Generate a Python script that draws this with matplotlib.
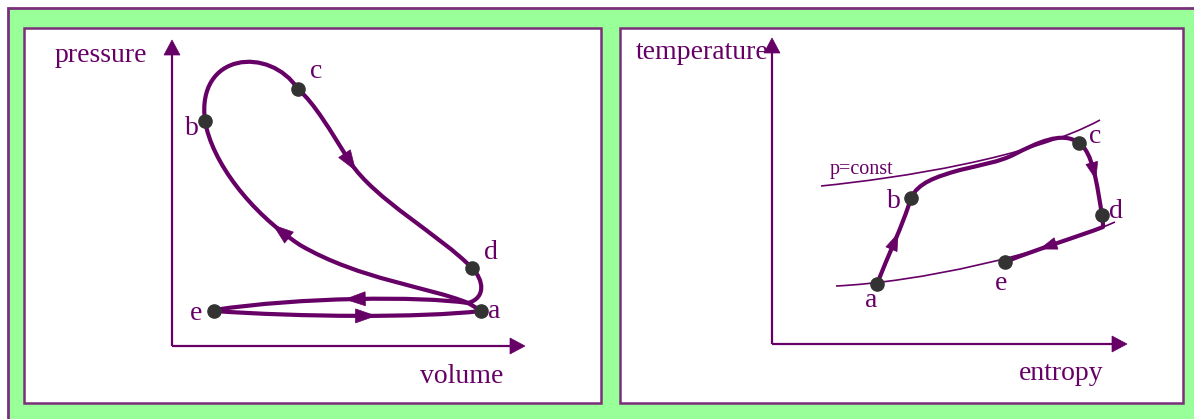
import numpy as np
import matplotlib
matplotlib.use('Agg')
import matplotlib.pyplot as plt
from matplotlib.path import Path
from matplotlib.patches import PathPatch, Rectangle, Polygon

W, H = 1194, 419
PURPLE = '#660066'
DOT = '#333333'
GREEN = '#99ff99'
BORDER = '#7a2f7a'
FONT = 'Liberation Serif'

# ---------------- data (pixel coordinates of the sketch) ----------------
# left panel: p-V diagram
pv_names = ['a', 'b', 'c', 'd', 'e']
pv_x = [481, 205, 298, 472, 214]
pv_y = [311, 121, 89, 268, 311]
pv_label_x = [488, 185, 310, 484, 190]
pv_label_y = [318, 135, 78, 259, 320]

# bezier chains: start point followed by (ctrl1, ctrl2, end) triples
pv_loop = [(468, 303),
           (430, 287), (360, 280), (300, 245),
           (250, 212), (212, 162), (205, 121),
           (196, 52), (270, 46), (298, 89),
           (315, 104), (330, 130), (350, 162),
           (375, 200), (440, 235), (472, 268),
           (484, 280), (486, 298), (468, 303),
           (472, 305), (476, 308), (481, 311)]
pv_upper = [(468, 303), (420, 296), (300, 297), (214, 310)]
pv_lower = [(214, 311), (300, 317), (420, 318), (481, 311)]
# arrows: (chain, segment, t)
pv_arrows = [('loop', 1, 0.13), ('loop', 4, 0.0), ('upper', 0, 0.5), ('lower', 0, 0.53)]

pv_axes = [((172, 346), (172, 40)), ((172, 346), (525, 346))]
pv_texts = [('pressure', 55, 62), ('volume', 420, 383)]

# right panel: T-s diagram
ts_names = ['a', 'b', 'c', 'd', 'e']
ts_x = [877, 911, 1079, 1102, 1005]
ts_y = [284, 198, 143, 215, 262]
ts_label_x = [865, 887, 1089, 1109, 995]
ts_label_y = [307, 208, 143, 218, 290]

ts_loop = [(877, 284),
           (887, 258), (903, 225), (911, 198),
           (918, 183), (935, 177), (960, 170),
           (980, 165), (1000, 162), (1015, 154),
           (1035, 144), (1062, 130), (1079, 143),
           (1093, 152), (1097, 185), (1102, 215),
           (1103, 220), (1103, 224), (1103, 227),
           (1080, 236), (1040, 248), (1005, 262)]
ts_iso_high = [(821, 186), (900, 178), (1030, 158), (1100, 120)]
ts_iso_low = [(836, 286), (920, 282), (1040, 255), (1115, 222)]
ts_arrows = [('loop', 0, 0.5), ('loop', 4, 0.5), ('loop', 6, 0.6)]

ts_axes = [((772, 344), (772, 38)), ((772, 344), (1127, 344))]
ts_texts = [('temperature', 636, 59), ('entropy', 1019, 380)]
ts_iso_label = ('p=const', 830, 174)

# ---------------- helpers ----------------
def chain_path(pts):
    codes = [Path.MOVETO] + [Path.CURVE4] * (len(pts) - 1)
    return Path(np.array(pts, float), codes)

def bez(pts, seg, t):
    p = np.array(pts[3 * seg:3 * seg + 4], float)
    pos = ((1 - t) ** 3) * p[0] + 3 * t * (1 - t) ** 2 * p[1] + 3 * t ** 2 * (1 - t) * p[2] + t ** 3 * p[3]
    d = 3 * (1 - t) ** 2 * (p[1] - p[0]) + 6 * t * (1 - t) * (p[2] - p[1]) + 3 * t ** 2 * (p[3] - p[2])
    return pos, d / np.linalg.norm(d)

def head(ax, center, u, L, Wd, tip=False):
    u = np.asarray(u, float)
    n = np.array([-u[1], u[0]])
    c = np.asarray(center, float)
    if tip:
        t_pt = c
        b = c - u * L
    else:
        t_pt = c + u * L / 2
        b = c - u * L / 2
    poly = Polygon([t_pt, b + n * Wd / 2, b - n * Wd / 2], closed=True,
                   fc=PURPLE, ec=PURPLE, lw=0.5, zorder=6)
    ax.add_patch(poly)

def axis_arrow(ax, start, tip):
    s = np.array(start, float); e = np.array(tip, float)
    u = (e - s) / np.linalg.norm(e - s)
    L = 15
    ax.plot([s[0], e[0] - u[0] * L], [s[1], e[1] - u[1] * L], color=PURPLE, lw=1.6,
            solid_capstyle='butt', zorder=4)
    head(ax, e, u, L, 16, tip=True)

# ---------------- figure ----------------
fig = plt.figure(figsize=(W / 100, H / 100), dpi=100)
fig.patch.set_facecolor('white')
ax = fig.add_axes([0, 0, 1, 1])
ax.set_xlim(0, W)
ax.set_ylim(H, 0)
ax.axis('off')

ax.add_patch(Rectangle((8, 8), W + 10, H + 10, fc=GREEN, ec='none', zorder=0))
ax.plot([8, 8, W + 5], [H + 5, 8, 8], color=BORDER, lw=2, solid_joinstyle='miter', zorder=0.5)
ax.add_patch(Rectangle((24, 28), 577, 375, fc='white', ec=BORDER, lw=1.8, zorder=1))
ax.add_patch(Rectangle((620, 28), 563, 375, fc='white', ec=BORDER, lw=1.8, zorder=1))

# p-V panel
pv_chains = {'loop': pv_loop, 'upper': pv_upper, 'lower': pv_lower}
for ch in pv_chains.values():
    ax.add_patch(PathPatch(chain_path(ch), fc='none', ec=PURPLE, lw=3.0,
                           capstyle='round', joinstyle='round', zorder=3))
for name, seg, t in pv_arrows:
    pos, u = bez(pv_chains[name], seg, t)
    head(ax, pos, u, 20, 14)
for s, e in pv_axes:
    axis_arrow(ax, s, e)
ax.plot(pv_x, pv_y, 'o', ms=9.5, color=DOT, zorder=7)
for n, x, y in zip(pv_names, pv_label_x, pv_label_y):
    ax.text(x, y, n, fontsize=20, family=FONT, color=PURPLE, ha='left', va='baseline', zorder=8)
for s, x, y in pv_texts:
    ax.text(x, y, s, fontsize=20, family=FONT, color=PURPLE, ha='left', va='baseline', zorder=8)

# T-s panel
for ch in (ts_iso_high, ts_iso_low):
    ax.add_patch(PathPatch(chain_path(ch), fc='none', ec=PURPLE, lw=1.2, zorder=2))
ts_chains = {'loop': ts_loop}
ax.add_patch(PathPatch(chain_path(ts_loop), fc='none', ec=PURPLE, lw=3.0,
                       capstyle='round', joinstyle='round', zorder=3))
for name, seg, t in ts_arrows:
    pos, u = bez(ts_chains[name], seg, t)
    head(ax, pos, u, 17, 12)
for s, e in ts_axes:
    axis_arrow(ax, s, e)
ax.plot(ts_x, ts_y, 'o', ms=9.5, color=DOT, zorder=7)
for n, x, y in zip(ts_names, ts_label_x, ts_label_y):
    ax.text(x, y, n, fontsize=20, family=FONT, color=PURPLE, ha='left', va='baseline', zorder=8)
for s, x, y in ts_texts:
    ax.text(x, y, s, fontsize=20, family=FONT, color=PURPLE, ha='left', va='baseline', zorder=8)
ax.text(ts_iso_label[1], ts_iso_label[2], ts_iso_label[0], fontsize=14.5, family=FONT,
        color=PURPLE, ha='left', va='baseline', zorder=8)

fig.savefig('out.png', dpi=100, facecolor='white')
